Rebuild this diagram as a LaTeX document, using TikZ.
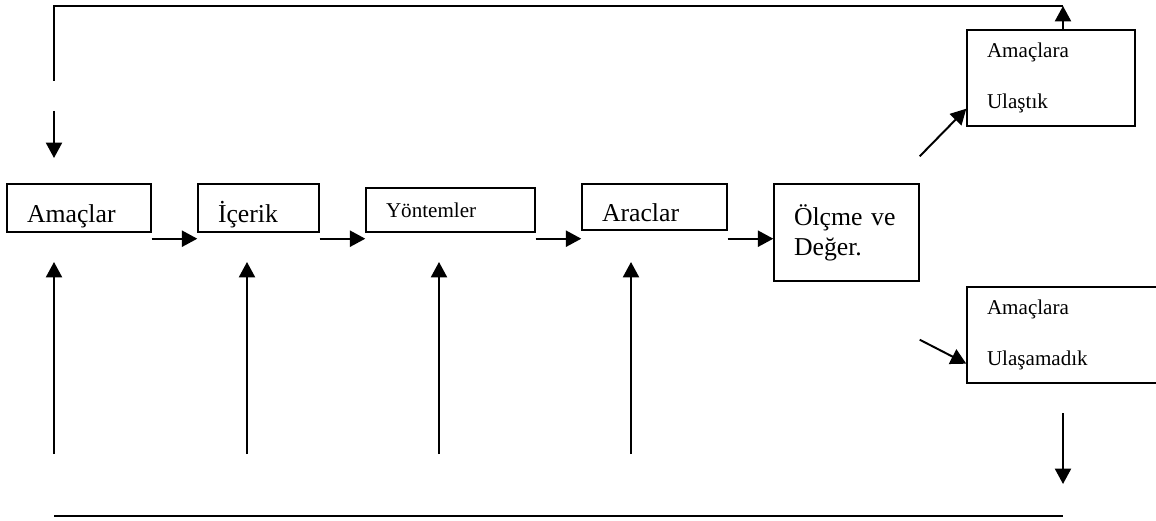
\documentclass[tikz,border=0pt]{standalone}
\usepackage{fontspec}
\setmainfont{Liberation Serif}
\usetikzlibrary{arrows.meta}

\begin{document}
\begin{tikzpicture}[
        box/.style={draw, line width=1pt, inner xsep=0.5cm, inner ysep=0pt, align=left},
        big/.style={font=\fontsize{18.3}{21.3}\selectfont},
        low/.style={text height=20pt, text depth=0pt},
        small/.style={font=\fontsize{15}{36.3}\selectfont},
        arr/.style={-{Triangle[length=11pt, width=11.5pt]}, line width=1.4pt},
        line/.style={line width=1.4pt}]
        \path[use as bounding box, clip] (0,0) rectangle (28.9,-13.025);

        % Kutular
        \node[box, big, low, text width=2.6cm, minimum height=1.2cm] (amac) at (1.975,-5.2) {Amaçlar};
        \node[box, big, low, text width=2.025cm, minimum height=1.2cm] (icerik) at (6.4625,-5.2) {İçerik};
        \node[box, small, text width=3.225cm, minimum height=1.1cm] (yontem) at (11.2625,-5.25) {Yöntemler};
        \node[box, big, low, text width=2.625cm, minimum height=1.15cm] (arac) at (16.3625,-5.175) {Araclar};
        \node[box, big, text width=2.625cm, minimum height=2.425cm] (olcme) at (21.1625,-5.8125) {Ölçme ve\\Değer.};

        % Sonuçlar
        \node[box, small, text width=3.2cm, minimum height=2.4cm] (ulastik) at (26.275,-1.95) {Amaçlara\\Ulaştık};
        \node[box, small, text width=4.325cm, minimum height=2.4cm] (ulasamadik) at (26.8375,-8.375) {Amaçlara\\Ulaşamadık};

        % Oklar
        \foreach \a/\b/\s in {amac/icerik/0.15cm, icerik/yontem/0.15cm, yontem/arac/0.15cm, arac/olcme/0.2cm}
            \draw[arr] ([yshift=-\s]\a.south east) -- ([yshift=-\s]\a.south east -| \b.west);
        \draw[arr] ([yshift=0.675cm]olcme.north east) -- ([yshift=0.45cm]ulastik.south west);
        \draw[arr] ([yshift=-1.45cm]olcme.south east) -- ([yshift=0.5cm]ulasamadik.south west);

        % Geri besleme
        \coordinate (ust_sag) at (26.575,-0.15);
        \coordinate (ust_sol) at (1.35,-0.15);
        \coordinate (sol_1) at (1.35,-2.025);
        \coordinate (sol_2) at (1.35,-2.775);
        \coordinate (sol_3) at (1.35,-3.95);
        \draw[arr] ([xshift=0.3cm]ulastik.north) -- (ust_sag);
        \draw[line] (ust_sag) -- (ust_sol) -- (sol_1);
        \draw[arr] (sol_2) -- (sol_3);

        % Alttan gelen oklar
        \foreach \x [count=\i] in {1.35, 6.175, 10.975, 15.775} {
            \coordinate (alt\i) at (\x,-11.35);
            \coordinate (tep\i) at (\x,-6.55);
            \draw[arr] (alt\i) -- (tep\i);
        }

        % Alt çizgi
        \coordinate (sag_1) at (26.575,-10.325);
        \coordinate (sag_2) at (26.575,-12.1);
        \coordinate (alt_sol) at (1.35,-12.9);
        \coordinate (alt_sag) at (26.575,-12.9);
        \draw[arr] (sag_1) -- (sag_2);
        \draw[line] (alt_sol) -- (alt_sag);
    \end{tikzpicture}
\end{document}
